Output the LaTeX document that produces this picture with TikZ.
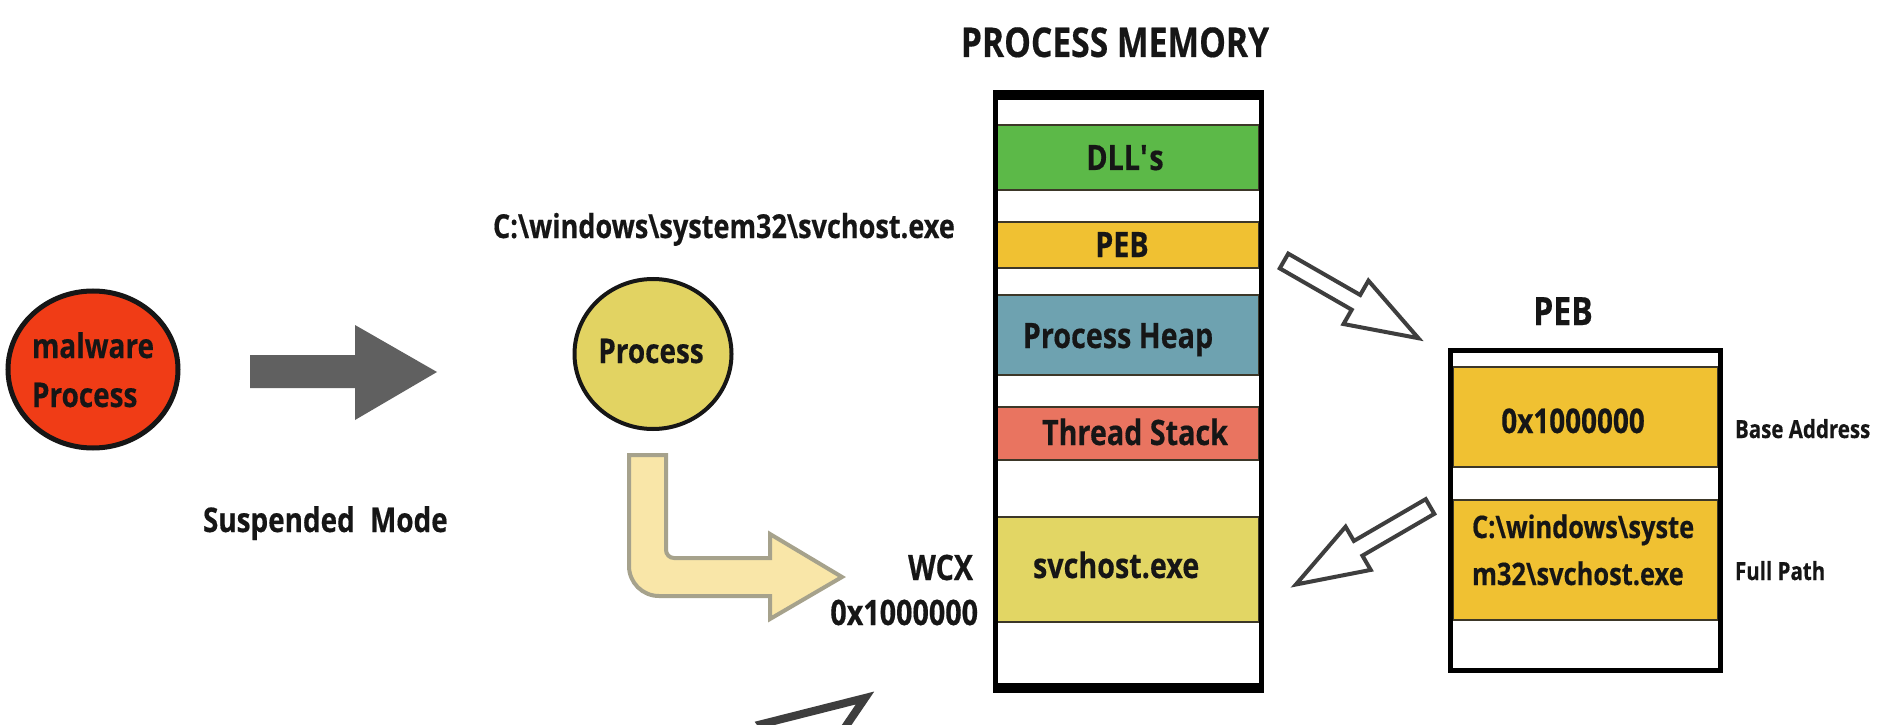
\documentclass[tikz,border=0pt]{standalone}
\usepackage{fontspec}
\setmainfont{Open Sans}[FakeStretch=0.82, BoldFeatures={FakeBold=0.4}]
\usetikzlibrary{calc,shapes.geometric}

\definecolor{ink}{RGB}{22,22,22}
\definecolor{malred}{RGB}{240,60,22}
\definecolor{procyellow}{RGB}{226,211,98}
\definecolor{arrowgray}{RGB}{96,96,96}
\definecolor{bendfill}{RGB}{249,230,168}
\definecolor{benddraw}{RGB}{166,162,140}
\definecolor{dllgreen}{RGB}{92,185,72}
\definecolor{pebgold}{RGB}{240,193,50}
\definecolor{heapblue}{RGB}{110,162,176}
\definecolor{stackred}{RGB}{233,116,96}
\definecolor{exeyellow}{RGB}{226,214,100}
\definecolor{blkline}{RGB}{60,55,40}
\definecolor{outline}{RGB}{62,62,62}

% hollow block arrow: [style]{tail}{tip}{half shaft}{half head}{head length}
\newcommand\hollowarrow[6][]{%
  \coordinate (ha-b) at ($(#3)!#6!(#2)$);
  \draw[#1] ($(#2)!#4!90:(#3)$) -- ($(ha-b)!#4!90:(#3)$) -- ($(ha-b)!#5!90:(#3)$)
    -- (#3) -- ($(ha-b)!#5!-90:(#3)$) -- ($(ha-b)!#4!-90:(#3)$)
    -- ($(#2)!#4!-90:(#3)$) -- cycle;}

\begin{document}
\begin{tikzpicture}[x=1bp,y=-1bp,
  lbl/.style={font=\bfseries\fontsize{#1}{#1}\selectfont, text=ink, inner sep=0pt, outer sep=0pt},
  lbl/.default=34bp,
  blk/.style={rectangle, draw=blkline, line width=1.2bp, inner sep=0pt, outer sep=0pt,
    minimum width=#1},
  blk/.default=262bp,
  openarrow/.style={draw=outline, fill=white, line width=4bp, line join=miter}]

\useasboundingbox (0,0) rectangle (1882,725);
\clip (0,0) rectangle (1882,725);
\fill[white] (0,0) rectangle (1882,725);

% --- malware process and the launch arrow
\node[ellipse, draw=ink, line width=5bp, fill=malred, minimum width=170bp,
  minimum height=157bp, inner sep=0pt] (mal) at (93,369.5) {};
\node[lbl=34bp, anchor=base west] (mal-l1) at (32,358) {malware};
\node[lbl=34bp, anchor=base west] (mal-l2) at (32,407) {Process};

\fill[arrowgray] (250,355) -- (355,355) -- (355,325) -- (437,372) -- (355,420)
  -- (355,388) -- (250,388) -- cycle;
\node[lbl=34bp, anchor=base west] (susp) at (203,532) {Suspended\hspace{0.45em}Mode};

% --- suspended target process
\node[lbl=33bp, anchor=base west] (path) at (493,238)
  {C:\textbackslash windows\textbackslash system32\textbackslash svchost.exe};
\node[ellipse, draw=ink, line width=4bp, fill=procyellow, minimum width=157bp,
  minimum height=150bp, inner sep=0pt] (proc) at (653,354) {};
\node[lbl=34bp, anchor=base] (proc-l) at (651,363) {Process};

% bent arrow from the process into its image
\draw[draw=benddraw, fill=bendfill, line width=4bp, line join=miter]
  (629,455) -- (629,566) .. controls (629,582.6) and (642.4,596) .. (659,596)
  -- (770,596) -- (770,619) -- (842,577) -- (770,534) -- (770,558)
  -- (674,558) .. controls (669.6,558) and (666,554.4) .. (666,550)
  -- (666,455) -- cycle;

\node[lbl=35bp, anchor=base east] (wcx) at (973,580) {WCX};
\node[lbl=35bp, anchor=base east] (wcx-addr) at (978,625) {0x1000000};

% --- process memory column
\node[lbl=41bp, anchor=base] (mem-title) at (1115,57) {PROCESS MEMORY};
\fill[white] (993,90) rectangle (1264,693);
\node[blk, fill=dllgreen,  minimum height=65bp]  (dll)   at (1128,157.5) {};
\node[blk, fill=pebgold,   minimum height=46bp]  (peb)   at (1128,245)   {};
\node[blk, fill=heapblue,  minimum height=80bp]  (heap)  at (1128,335)   {};
\node[blk, fill=stackred,  minimum height=53bp]  (stack) at (1128,433.5) {};
\node[blk, fill=exeyellow, minimum height=105bp] (exe)   at (1128,569.5) {};
\fill[black] (993,90) rectangle (1264,100);
\fill[black] (993,683) rectangle (1264,693);
\fill[black] (993,90) rectangle (998,693);
\fill[black] (1259,90) rectangle (1264,693);

\node[lbl=35bp, anchor=base] (dll-l)   at (1125,170) {DLL\textquotesingle s};
\node[lbl=35bp, anchor=base] (peb-l)   at (1122,257) {PEB};
\node[lbl=35bp, anchor=base] (heap-l)  at (1118,348) {Process Heap};
\node[lbl=35bp, anchor=base] (stack-l) at (1135,445) {Thread Stack};
\node[lbl=35bp, anchor=base west] (exe-l) at (1033,578) {svchost.exe};

% --- PEB structure
\node[lbl=39bp, anchor=base] (peb-title) at (1563,325) {PEB};
\fill[white] (1450.5,350.5) rectangle (1720.5,670);
\node[blk=265bp, fill=pebgold, minimum height=100bp] (base) at (1585.5,417) {};
\node[blk=265bp, fill=pebgold, minimum height=120bp] (full) at (1585.5,560) {};
\draw[black, line width=5bp] (1450.5,350.5) rectangle (1720.5,670);

\node[lbl=34bp, anchor=base] (base-l) at (1573,433) {0x1000000};
\node[lbl=31bp, anchor=base west] (full-l1) at (1472,538) {C:\textbackslash windows\textbackslash syste};
\node[lbl=31bp, anchor=base west] (full-l2) at (1472,585) {m32\textbackslash svchost.exe};
\node[lbl=25bp, anchor=base west] (base-n) at (1735,438) {Base Address};
\node[lbl=25bp, anchor=base west] (full-n) at (1735,580) {Full Path};

% --- hollow arrows between the two structures
\coordinate (a1-tail) at (1284,261);
\coordinate (a1-tip)  at (1418.4,338.2);
\hollowarrow[openarrow]{a1-tail}{a1-tip}{8.5bp}{25bp}{72bp}
\coordinate (a2-tail) at (1430,506.5);
\coordinate (a2-tip)  at (1295.9,584.5);
\hollowarrow[openarrow]{a2-tail}{a2-tip}{8.5bp}{25bp}{72bp}
\coordinate (a3-tail) at (660,841.5);
\coordinate (a3-tip)  at (865,698);
\hollowarrow[openarrow, line width=8bp]{a3-tail}{a3-tip}{14bp}{38bp}{100bp}
\end{tikzpicture}
\end{document}
